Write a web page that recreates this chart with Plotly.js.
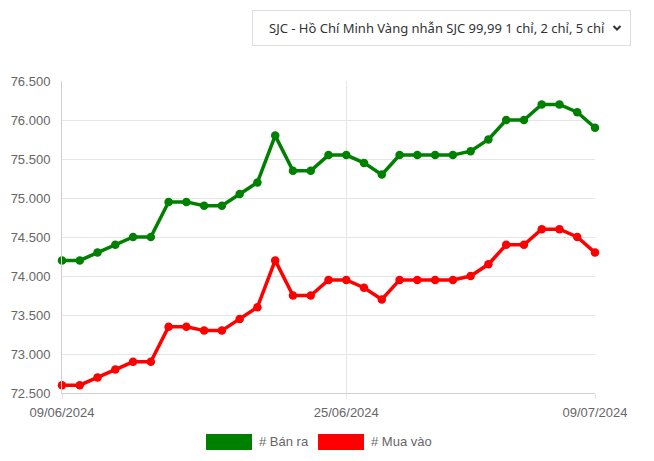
<!DOCTYPE html>
<html><head><meta charset="utf-8">
<script src="https://cdn.plot.ly/plotly-3.0.1.min.js"></script>
<style>
html,body{margin:0;padding:0;background:#fff;}
#wrap{position:relative;width:654px;height:461px;}
#chart{position:absolute;left:0;top:0;width:654px;height:461px;}
#sel{position:absolute;left:252px;top:10px;width:379px;height:36px;border:1px solid #dedede;box-sizing:border-box;
 font-family:"Noto Sans","Open Sans",sans-serif;font-size:13px;color:#333;line-height:34px;padding-left:16px;background:#fff;z-index:2;}
#sel svg{position:absolute;right:8px;top:13px;}
</style></head>
<body><div id="wrap"><div id="chart"></div>
<div id="sel">SJC - Hồ Chí Minh Vàng nhẫn SJC 99,99 1 chỉ, 2 chỉ, 5 chỉ<svg width="10" height="8" viewBox="0 0 10 8"><path d="M1.5 2 L5 5.5 L8.5 2" stroke="#333" stroke-width="2" fill="none"/></svg></div>
</div>
<script>
const dates = ["2024-06-09","2024-06-10","2024-06-11","2024-06-12","2024-06-13","2024-06-14","2024-06-15","2024-06-16","2024-06-17","2024-06-18","2024-06-19","2024-06-20","2024-06-21","2024-06-22","2024-06-23","2024-06-24","2024-06-25","2024-06-26","2024-06-27","2024-06-28","2024-06-29","2024-06-30","2024-07-01","2024-07-02","2024-07-03","2024-07-04","2024-07-05","2024-07-06","2024-07-07","2024-07-08","2024-07-09"];
const banRa = [74200,74200,74300,74400,74500,74500,74950,74950,74900,74900,75050,75200,75800,75350,75350,75550,75550,75450,75300,75550,75550,75550,75550,75600,75750,76000,76000,76200,76200,76100,75900];
const muaVao = [72600,72600,72700,72800,72900,72900,73350,73350,73300,73300,73450,73600,74200,73750,73750,73950,73950,73850,73700,73950,73950,73950,73950,74000,74150,74400,74400,74600,74600,74500,74300];
const tickDates = ["2024-06-09","2024-06-25","2024-07-09"];
const tickLabels = ["09/06/2024","25/06/2024","09/07/2024"];
const seriesNames = ["# Bán ra","# Mua vào"];
const colors = ["#008000","#ff0000"];

const mk = (y,i)=>({x:dates,y:y,type:'scatter',mode:'lines+markers',name:seriesNames[i],
  line:{color:colors[i],width:3.5},marker:{color:colors[i],size:8.5},cliponaxis:false,showlegend:false});
const data=[mk(banRa,0),mk(muaVao,1)];
const font={family:"Liberation Sans, Arial, sans-serif",size:13,color:"#666"};
const layout={
  width:654,height:461,margin:{l:62,r:59,t:81,b:68},
  paper_bgcolor:"#fff",plot_bgcolor:"#fff",font:font,separators:",.",
  xaxis:{type:'date',range:["2024-06-09","2024-07-09"],tickvals:tickDates,ticktext:tickLabels,
    showgrid:true,gridcolor:"#e5e5e5",gridwidth:1,ticks:"outside",ticklen:5,tickcolor:"#e5e5e5",
    showline:true,linecolor:"#d0d0d0",zeroline:false,tickfont:font,ticklabelstandoff:2,fixedrange:true},
  yaxis:{range:[72500,76500],dtick:500,tick0:72500,tickformat:",d",showgrid:true,gridcolor:"#e5e5e5",
    showline:true,linecolor:"#d0d0d0",zeroline:false,ticks:"",tickfont:font,ticklabelstandoff:8},
  shapes:[
    {type:'rect',xref:'paper',yref:'paper',x0:(206-62)/533,x1:(252-62)/533,y0:-(434-393)/312,y1:-(450-393)/312,fillcolor:colors[0],line:{width:0}},
    {type:'rect',xref:'paper',yref:'paper',x0:(318-62)/533,x1:(364-62)/533,y0:-(434-393)/312,y1:-(450-393)/312,fillcolor:colors[1],line:{width:0}}
  ],
  annotations:[
    {xref:'paper',yref:'paper',x:(257-62)/533,y:-(442-393)/312,xanchor:'left',yanchor:'middle',text:seriesNames[0],showarrow:false,font:font},
    {xref:'paper',yref:'paper',x:(369-62)/533,y:-(442-393)/312,xanchor:'left',yanchor:'middle',text:seriesNames[1],showarrow:false,font:font}
  ],
  showlegend:false
};
Plotly.newPlot('chart',data,layout,{displayModeBar:false,staticPlot:true});
</script></body></html>
